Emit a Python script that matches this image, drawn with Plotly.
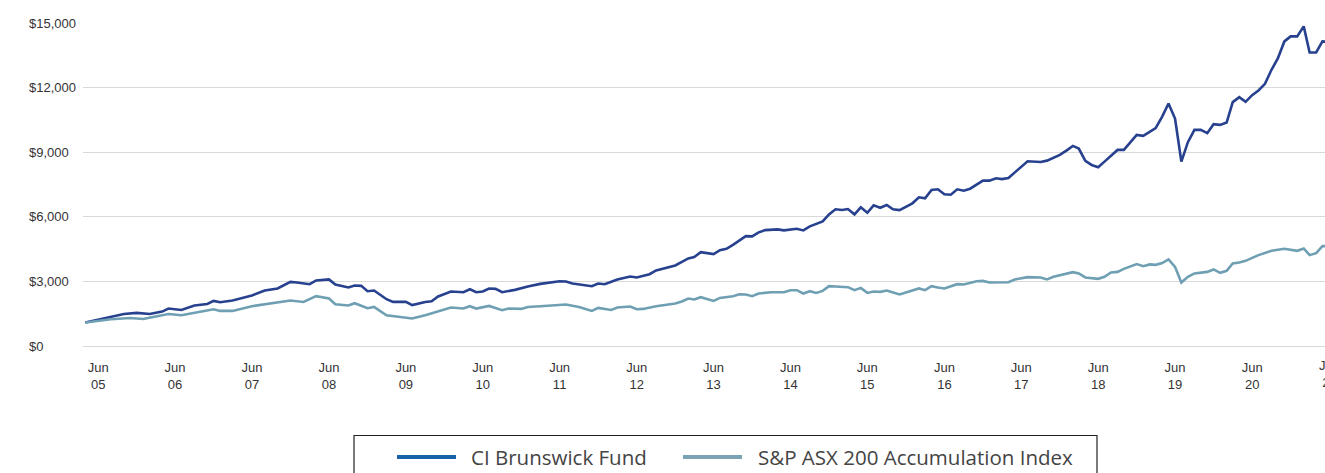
import datetime as dt
import plotly.graph_objects as go

# ---------------- data ----------------
fund_dates = [
    "2005-04", "2005-06", "2005-08", "2005-10", "2005-12", "2006-02", "2006-04", "2006-05",
    "2006-07", "2006-09", "2006-11", "2006-12", "2007-01", "2007-03", "2007-06", "2007-08",
    "2007-10", "2007-12", "2008-01", "2008-03", "2008-04", "2008-06", "2008-07", "2008-08",
    "2008-09", "2008-10", "2008-11", "2008-12", "2009-01", "2009-03", "2009-04", "2009-06",
    "2009-07", "2009-09", "2009-10", "2009-11", "2010-01", "2010-03", "2010-04", "2010-05",
    "2010-06", "2010-07", "2010-08", "2010-09", "2010-11", "2011-01", "2011-03", "2011-06",
    "2011-07", "2011-08", "2011-10", "2011-11", "2011-12", "2012-01", "2012-03", "2012-05",
    "2012-06", "2012-08", "2012-09", "2012-12", "2013-02", "2013-03", "2013-04", "2013-06",
    "2013-07", "2013-08", "2013-09", "2013-10", "2013-11", "2013-12", "2014-01", "2014-02",
    "2014-04", "2014-05", "2014-07", "2014-08", "2014-09", "2014-11", "2014-12", "2015-01",
    "2015-02", "2015-03", "2015-04", "2015-05", "2015-06", "2015-07", "2015-08", "2015-09",
    "2015-10", "2015-11", "2016-01", "2016-02", "2016-03", "2016-04", "2016-05", "2016-06",
    "2016-07", "2016-08", "2016-09", "2016-10", "2016-12", "2017-01", "2017-02", "2017-03",
    "2017-04", "2017-07", "2017-09", "2017-10", "2017-12", "2018-01", "2018-02", "2018-03",
    "2018-04", "2018-05", "2018-06", "2018-07", "2018-08", "2018-09", "2018-10", "2018-12",
    "2019-01", "2019-02", "2019-03", "2019-04", "2019-05", "2019-06", "2019-07", "2019-08",
    "2019-09", "2019-10", "2019-11", "2019-12", "2020-01", "2020-02", "2020-03", "2020-04",
    "2020-05", "2020-06", "2020-07", "2020-08", "2020-09", "2020-10", "2020-11", "2020-12",
    "2021-01", "2021-02", "2021-03", "2021-04", "2021-05", "2021-06",
]
fund_values = [
    1089, 1228, 1349, 1489, 1536, 1489, 1600, 1740,
    1675, 1880, 1954, 2094, 2033, 2112, 2345, 2578,
    2671, 2978, 2950, 2871, 3043, 3090, 2850, 2780,
    2717, 2810, 2792, 2545, 2578, 2173, 2047, 2047,
    1900, 2047, 2080, 2299, 2531, 2499, 2638, 2499,
    2531, 2671, 2652, 2499, 2606, 2764, 2885, 3010,
    2997, 2904, 2838, 2778, 2904, 2871, 3090, 3229,
    3183, 3336, 3508, 3741, 4067, 4127, 4360, 4267,
    4453, 4514, 4700, 4886, 5104, 5090, 5276, 5383,
    5416, 5369, 5444, 5369, 5556, 5788, 6114, 6347,
    6314, 6361, 6114, 6440, 6189, 6533, 6421, 6547,
    6347, 6314, 6626, 6905, 6858, 7250, 7277, 7045,
    7026, 7277, 7212, 7305, 7678, 7678, 7789, 7750,
    7803, 8580, 8548, 8608, 8873, 9074, 9292, 9167,
    8594, 8408, 8301, 8562, 8841, 9106, 9106, 9804,
    9758, 9929, 10115, 10650, 11260, 10562, 8562, 9464,
    10036, 10036, 9883, 10302, 10269, 10376, 11325, 11558,
    11339, 11651, 11865, 12177, 12828, 13354, 14145, 14378,
    14378, 14843, 13633, 13633, 14145, 14117,
]

index_dates = [
    "2005-04", "2005-08", "2005-11", "2006-01", "2006-03", "2006-05", "2006-07", "2006-09",
    "2006-12", "2007-01", "2007-03", "2007-06", "2007-09", "2007-12", "2008-02", "2008-04",
    "2008-06", "2008-07", "2008-09", "2008-10", "2008-12", "2009-01", "2009-03", "2009-05",
    "2009-07", "2009-09", "2009-10", "2010-01", "2010-03", "2010-04", "2010-05", "2010-07",
    "2010-09", "2010-10", "2010-12", "2011-01", "2011-03", "2011-06", "2011-07", "2011-09",
    "2011-11", "2011-12", "2012-02", "2012-03", "2012-05", "2012-06", "2012-07", "2012-09",
    "2012-12", "2013-01", "2013-02", "2013-03", "2013-04", "2013-06", "2013-07", "2013-09",
    "2013-10", "2013-11", "2013-12", "2014-01", "2014-03", "2014-05", "2014-06", "2014-07",
    "2014-08", "2014-09", "2014-10", "2014-11", "2014-12", "2015-01", "2015-03", "2015-04",
    "2015-05", "2015-06", "2015-07", "2015-08", "2015-09", "2015-11", "2016-01", "2016-02",
    "2016-03", "2016-04", "2016-05", "2016-06", "2016-08", "2016-09", "2016-11", "2016-12",
    "2017-01", "2017-04", "2017-05", "2017-07", "2017-09", "2017-10", "2017-11", "2017-12",
    "2018-01", "2018-02", "2018-03", "2018-04", "2018-06", "2018-07", "2018-08", "2018-09",
    "2018-10", "2018-12", "2019-01", "2019-02", "2019-03", "2019-04", "2019-05", "2019-06",
    "2019-07", "2019-08", "2019-09", "2019-11", "2019-12", "2020-01", "2020-02", "2020-03",
    "2020-04", "2020-05", "2020-07", "2020-09", "2020-11", "2020-12", "2021-01", "2021-02",
    "2021-03", "2021-04", "2021-05", "2021-06",
]
index_values = [
    1089, 1242, 1303, 1256, 1368, 1489, 1428, 1554,
    1708, 1629, 1629, 1847, 1973, 2112, 2047, 2313,
    2206, 1940, 1880, 1987, 1754, 1815, 1428, 1349,
    1275, 1428, 1508, 1787, 1740, 1847, 1740, 1861,
    1661, 1740, 1722, 1815, 1847, 1926, 1926, 1815,
    1629, 1768, 1675, 1787, 1833, 1708, 1722, 1847,
    1973, 2066, 2206, 2159, 2266, 2094, 2233, 2313,
    2406, 2392, 2313, 2438, 2499, 2499, 2592, 2592,
    2438, 2545, 2466, 2559, 2778, 2760, 2731, 2592,
    2699, 2466, 2531, 2513, 2578, 2392, 2559, 2671,
    2592, 2778, 2717, 2671, 2871, 2857, 3010, 3024,
    2950, 2964, 3090, 3197, 3183, 3090, 3211, 3276,
    3369, 3429, 3369, 3183, 3118, 3211, 3415, 3443,
    3583, 3802, 3708, 3788, 3769, 3850, 4020, 3676,
    2950, 3211, 3369, 3443, 3555, 3397, 3490, 3834,
    3881, 3955, 4220, 4420, 4514, 4453, 4420, 4532,
    4220, 4313, 4639, 4639,
]

series_names = ["CI Brunswick Fund", "S&P ASX 200 Accumulation Index"]

y_tick_values = [0, 3000, 6000, 9000, 12000, 15000]
y_tick_labels = ["$0", "$3,000", "$6,000", "$9,000", "$12,000", "$15,000"]

x_tick_dates = ["2005-06", "2006-06", "2007-06", "2008-06", "2009-06", "2010-06",
                "2011-06", "2012-06", "2013-06", "2014-06", "2015-06", "2016-06",
                "2017-06", "2018-06", "2019-06", "2020-06", "2021-06"]
x_tick_labels = ["Jun<br>05", "Jun<br>06", "Jun<br>07", "Jun<br>08", "Jun<br>09",
                 "Jun<br>10", "Jun<br>11", "Jun<br>12", "Jun<br>13", "Jun<br>14",
                 "Jun<br>15", "Jun<br>16", "Jun<br>17", "Jun<br>18", "Jun<br>19",
                 "Jun<br>20", "Jun<br>21"]

# ---------------- styling ----------------
FUND_COLOR = "#27418f"
INDEX_COLOR = "#6f9fb2"
FUND_KEY = "#1761a9"
INDEX_KEY = "#7aa3b5"
GRID = "#d9d9d9"
TEXT = "#333333"
AX_FONT = "Liberation Sans, Arial, sans-serif"
KEY_FONT = "Open Sans, sans-serif"

W, H = 1325, 473
ML, MR, MT, MB = 83, 0, 23, 127
PW, PH = W - ML - MR, H - MT - MB
x_range = ["2005-03-21", "2021-05-13"]


def px_x(px):
    """page pixel -> paper x"""
    return (px - ML) / PW


def px_y(py):
    """page pixel -> paper y"""
    return (H - MB - py) / PH


fig = go.Figure()
fig.add_trace(go.Scatter(x=fund_dates, y=fund_values, mode="lines", name=series_names[0],
                         line=dict(color=FUND_COLOR, width=2.6)))
fig.add_trace(go.Scatter(x=index_dates, y=index_values, mode="lines", name=series_names[1],
                         line=dict(color=INDEX_COLOR, width=2.6)))

annotations = []
shapes = []

# y tick labels, left aligned as in the reference
for v, lab in zip(y_tick_values, y_tick_labels):
    annotations.append(dict(x=px_x(27), xref="paper", xanchor="left",
                            y=v, yref="y", yanchor="middle", text=lab, showarrow=False,
                            font=dict(family=AX_FONT, size=13, color=TEXT)))

# last tick ("Jun 21") sits just past the right edge and is partially cut off
t0 = dt.datetime.fromisoformat(x_range[0])
t1 = dt.datetime.fromisoformat(x_range[1])
t_last = dt.datetime.fromisoformat(x_tick_dates[-1] + "-01")
frac = (t_last - t0).total_seconds() / (t1 - t0).total_seconds()
annotations.append(dict(x=frac, xref="paper", xanchor="center", y=px_y(356), yref="paper",
                        yanchor="top", text=x_tick_labels[-1], showarrow=False,
                        font=dict(family=AX_FONT, size=13, color=TEXT)))

# key box at the bottom (as in the reference)
shapes.append(dict(type="rect", xref="paper", yref="paper",
                   x0=px_x(354), x1=px_x(1097), y0=px_y(490), y1=px_y(435.5),
                   line=dict(color="#222222", width=1.2), fillcolor="white", layer="above"))
key_items = [(series_names[0], FUND_KEY, 397, 456, 469),
             (series_names[1], INDEX_KEY, 683, 742, 756)]
for name, col, a, b, tx in key_items:
    shapes.append(dict(type="line", xref="paper", yref="paper",
                       x0=px_x(a), x1=px_x(b), y0=px_y(457), y1=px_y(457),
                       line=dict(color=col, width=4), layer="above"))
    annotations.append(dict(x=px_x(tx), xref="paper", xanchor="left",
                            y=px_y(457), yref="paper", yanchor="middle", text=name,
                            showarrow=False,
                            font=dict(family=KEY_FONT, size=20.5, color="#444444")))

fig.update_layout(
    width=W, height=H,
    margin=dict(l=ML, r=MR, t=MT, b=MB, pad=0, autoexpand=False),
    paper_bgcolor="white", plot_bgcolor="white",
    showlegend=False,
    xaxis=dict(type="date", range=x_range, tickvals=x_tick_dates, ticktext=x_tick_labels,
               showgrid=False, zeroline=False, showline=False, ticks="",
               ticklabelstandoff=12,
               tickfont=dict(family=AX_FONT, size=13, color=TEXT)),
    yaxis=dict(range=[0, 15000], tickvals=y_tick_values, showticklabels=False,
               showgrid=True, gridcolor=GRID, gridwidth=1.3,
               zeroline=True, zerolinecolor=GRID, zerolinewidth=1.3, showline=False, ticks=""),
    annotations=annotations,
    shapes=shapes,
)

fig.write_html("out.html", config={"displayModeBar": False},
               post_script="document.body.style.margin='0';document.body.style.overflow='hidden';")
